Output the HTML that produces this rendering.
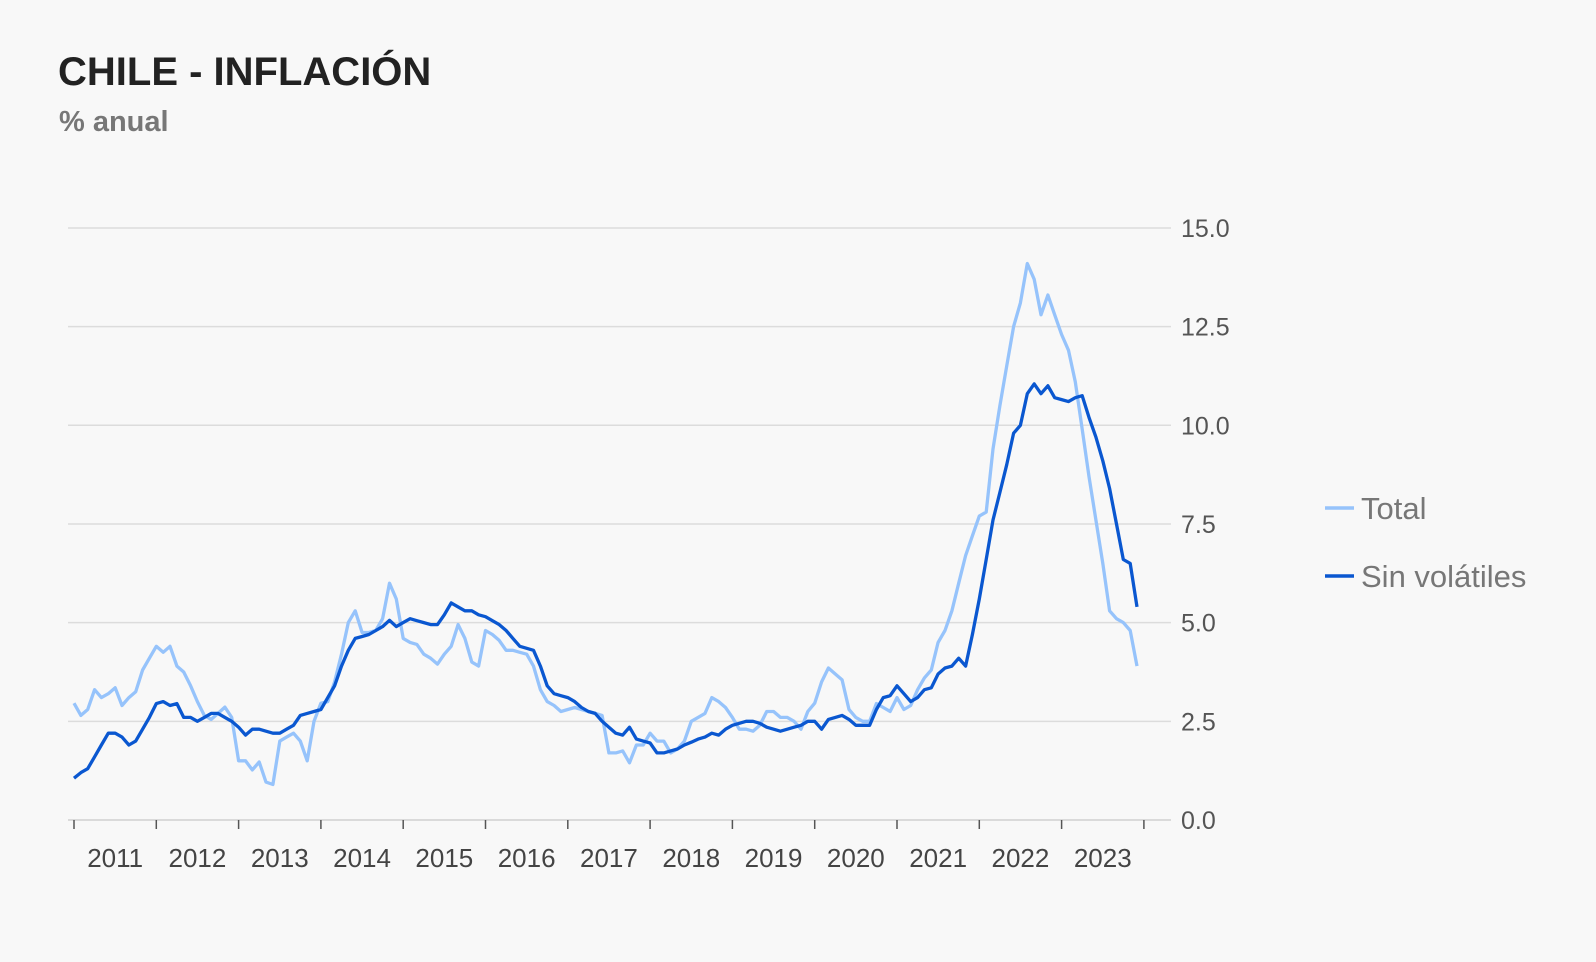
<!DOCTYPE html>
<html><head><meta charset="utf-8"><style>
body{margin:0;background:#f8f8f8;font-family:"Liberation Sans",sans-serif;}
#wrap{position:relative;width:1596px;height:962px;overflow:hidden;}
h1{position:absolute;left:58px;top:50px;margin:0;font-size:40px;font-weight:bold;color:#222;letter-spacing:0px;}
.sub{position:absolute;left:59px;top:106px;font-size:29px;font-weight:bold;color:#777;}
</style></head><body>
<div id="wrap">
<h1>CHILE - INFLACIÓN</h1>
<div class="sub">% anual</div>
<svg id="chart" width="1596" height="962" style="position:absolute;left:0;top:0"></svg>
</div>
<script>
const years = [2011,2012,2013,2014,2015,2016,2017,2018,2019,2020,2021,2022,2023];
const yTicks = [0,2.5,5,7.5,10,12.5,15];
const yTickLabels = ["0.0","2.5","5.0","7.5","10.0","12.5","15.0"];
const seriesNames = ["Total","Sin volátiles"];
const totalValues = [
2.96,2.65,2.8,3.3,3.1,3.2,3.35,2.9,3.1,3.25,3.8,4.1,
4.4,4.25,4.4,3.9,3.75,3.4,3.0,2.65,2.55,2.7,2.86,2.6,
1.5,1.5,1.27,1.47,0.96,0.9,2.0,2.1,2.2,2.0,1.5,2.5,
2.96,3.0,3.5,4.2,5.0,5.3,4.75,4.75,4.8,5.1,6.0,5.6,
4.6,4.5,4.45,4.2,4.1,3.95,4.2,4.4,4.95,4.6,4.0,3.9,
4.8,4.7,4.55,4.3,4.3,4.25,4.2,3.9,3.3,3.0,2.9,2.75,
2.8,2.85,2.8,2.75,2.7,2.65,1.7,1.7,1.75,1.45,1.9,1.9,
2.2,2.0,2.0,1.7,1.8,2.0,2.5,2.6,2.7,3.1,3.0,2.85,
2.6,2.3,2.3,2.25,2.4,2.75,2.75,2.6,2.6,2.5,2.3,2.75,
2.96,3.5,3.85,3.7,3.55,2.8,2.6,2.5,2.5,2.95,2.85,2.75,
3.1,2.8,2.9,3.3,3.6,3.8,4.5,4.8,5.3,6.0,6.7,7.2,
7.7,7.8,9.4,10.5,11.5,12.5,13.1,14.1,13.7,12.8,13.3,12.8,
12.3,11.9,11.1,9.9,8.7,7.6,6.5,5.3,5.1,5.0,4.8,3.9];
const coreValues = [
1.06,1.2,1.3,1.6,1.9,2.2,2.2,2.1,1.9,2.0,2.3,2.6,
2.95,3.0,2.9,2.95,2.6,2.6,2.5,2.6,2.7,2.7,2.6,2.5,
2.35,2.15,2.3,2.3,2.25,2.2,2.2,2.3,2.4,2.65,2.7,2.75,
2.8,3.1,3.4,3.9,4.3,4.6,4.65,4.7,4.8,4.9,5.06,4.9,
5.0,5.1,5.05,5.0,4.95,4.95,5.2,5.5,5.4,5.3,5.3,5.2,
5.15,5.05,4.95,4.8,4.6,4.4,4.35,4.3,3.9,3.4,3.2,3.15,
3.1,3.0,2.85,2.75,2.7,2.5,2.35,2.2,2.15,2.35,2.05,2.0,
1.95,1.7,1.7,1.75,1.8,1.9,1.97,2.05,2.1,2.2,2.15,2.3,
2.4,2.45,2.5,2.5,2.45,2.35,2.3,2.25,2.3,2.35,2.4,2.5,
2.5,2.3,2.55,2.6,2.65,2.55,2.4,2.4,2.4,2.8,3.1,3.15,
3.4,3.2,3.0,3.1,3.3,3.35,3.7,3.85,3.9,4.1,3.9,4.7,
5.6,6.6,7.6,8.3,9.0,9.8,10.0,10.8,11.05,10.8,11.0,10.7,
10.65,10.6,10.7,10.75,10.2,9.7,9.1,8.4,7.5,6.6,6.5,5.4];

const NS="http://www.w3.org/2000/svg";
const svg=document.getElementById('chart');
const X0=74, YEARW=82.3, yBase=820, yPer=39.47;
const xMonth=i=>X0+i*YEARW/12;
const yVal=v=>yBase-v*yPer;
function mk(tag,attrs){const e=document.createElementNS(NS,tag);for(const k in attrs)e.setAttribute(k,attrs[k]);svg.appendChild(e);return e;}

yTicks.forEach((t,k)=>{
  const g=mk('line',{x1:68,x2:1171,y1:yVal(t),y2:yVal(t),stroke:k==0?'#d0d0d0':'#dcdcdc','stroke-width':1.5});
  
  
  const tx=mk('text',{x:1181,y:yVal(t)+9,'font-size':25,fill:'#555','font-family':'Liberation Sans, sans-serif'});
  tx.textContent=yTickLabels[k];
  
  
});
for(let k=0;k<=years.length;k++){
  const x=X0+k*YEARW;
  const tk=mk('line',{x1:x,x2:x,y1:820,y2:829,stroke:'#555','stroke-width':1.5});
  
  
}
years.forEach((yr,k)=>{
  const tx=mk('text',{x:X0+(k+0.5)*YEARW,y:867,'font-size':26,fill:'#444','text-anchor':'middle','font-family':'Liberation Sans, sans-serif'});
  tx.textContent=yr;
  
  
});
function drawLine(vals,color,name){
  const d=vals.map((v,i)=>(i?'L':'M')+xMonth(i).toFixed(1)+','+yVal(v).toFixed(1)).join('');
  const p=mk('path',{d:d,fill:'none',stroke:color,'stroke-width':3.3,'stroke-linejoin':'round'});
  
  
}
drawLine(totalValues,'#96c3fb','total-line');
drawLine(coreValues,'#0a57d0','sin-volatiles-line');

const legColors=['#96c3fb','#0a57d0'];
seriesNames.forEach((n,k)=>{
  const y=508+k*68;
  const l=mk('line',{x1:1325,x2:1354,y1:y,y2:y,stroke:legColors[k],'stroke-width':3.5});
  
  
  const t=mk('text',{x:1361,y:y+11,'font-size':31,fill:'#777','font-family':'Liberation Sans, sans-serif'});
  t.textContent=n;
  
  
});
</script>
</body></html>
